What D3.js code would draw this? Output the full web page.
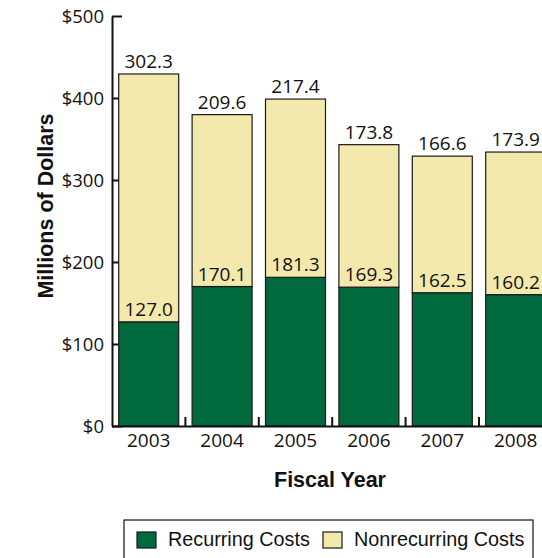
<!DOCTYPE html>
<html>
<head>
<meta charset="utf-8">
<script src="https://cdn.jsdelivr.net/npm/d3@7"></script>
<style>
  html, body { margin: 0; padding: 0; background: #fff; overflow: hidden; }
  svg { display: block; }
</style>
</head>
<body>
<svg id="chart" width="542" height="558"></svg>
<script>
// Fiscal years and cost components (millions of dollars)
const years = ["2003", "2004", "2005", "2006", "2007", "2008"];
const recurring = [127.0, 170.1, 181.3, 169.3, 162.5, 160.2];
const nonrecurring = [302.3, 209.6, 217.4, 173.8, 166.6, 173.9];
const yTicks = [0, 100, 200, 300, 400, 500];
const seriesNames = ["Recurring Costs", "Nonrecurring Costs"];

const colors = { recurring: "#006a3e", nonrecurring: "#f3e9ac", edge: "#1a1a1a" };
const valueFont = "'Open Sans', sans-serif";
const titleFont = "'Liberation Sans', Arial, sans-serif";

const svg = d3.select("#chart");
svg.append("rect").attr("width", 542).attr("height", 558).attr("fill", "#fff");

const x = d3.scaleBand()
  .domain(years)
  .range([112, 552.4])
  .paddingInner(0.1826)
  .paddingOuter(0.0913);

const y = d3.scaleLinear().domain([0, 500]).range([426, 16]);

// Y axis: ticks point inward, labels to the left
const yAxis = svg.append("g")
  .attr("transform", "translate(112,0)")
  .call(d3.axisLeft(y).tickValues(yTicks).tickSize(-10).tickSizeOuter(0)
    .tickPadding(8).tickFormat(d => "$" + d));
yAxis.select(".domain").attr("stroke", "#111").attr("stroke-width", 2);
yAxis.selectAll(".tick line").attr("stroke", "#111").attr("stroke-width", 2);
yAxis.selectAll(".tick text")
  .attr("font-family", valueFont).attr("font-size", 18.5).attr("fill", "#111")
  .attr("dy", "0.36em");

// Stacked bars
const data = years.map((yr, i) => ({ year: yr, rec: recurring[i], non: nonrecurring[i] }));
const bars = svg.append("g").selectAll("g").data(data).join("g");

bars.append("rect")
  .attr("x", d => x(d.year))
  .attr("y", d => y(d.rec))
  .attr("width", x.bandwidth())
  .attr("height", d => y(0) - y(d.rec))
  .attr("fill", colors.recurring)
  .attr("stroke", colors.edge).attr("stroke-width", 1.2);

bars.append("rect")
  .attr("x", d => x(d.year))
  .attr("y", d => y(d.rec + d.non))
  .attr("width", x.bandwidth())
  .attr("height", d => y(d.rec) - y(d.rec + d.non))
  .attr("fill", colors.nonrecurring)
  .attr("stroke", colors.edge).attr("stroke-width", 1.2);

// Value labels: recurring just above the green segment, nonrecurring above the stack
bars.append("text")
  .attr("x", d => x(d.year) + x.bandwidth() / 2)
  .attr("y", d => y(d.rec) - 6)
  .attr("text-anchor", "middle")
  .attr("font-family", valueFont).attr("font-size", 19).attr("fill", "#111")
  .text(d => d.rec.toFixed(1));

bars.append("text")
  .attr("x", d => x(d.year) + x.bandwidth() / 2)
  .attr("y", d => y(d.rec + d.non) - 6)
  .attr("text-anchor", "middle")
  .attr("font-family", valueFont).attr("font-size", 19).attr("fill", "#111")
  .text(d => d.non.toFixed(1));

// X axis with year labels
const xAxis = svg.append("g")
  .attr("transform", "translate(0,426)")
  .call(d3.axisBottom(x).tickSize(0).tickSizeOuter(0).tickPadding(8));
xAxis.select(".domain").attr("stroke", "#111").attr("stroke-width", 2);
xAxis.selectAll(".tick text")
  .attr("font-family", valueFont).attr("font-size", 19).attr("fill", "#111");

// Short separator ticks between the bars
const gap = x.step() * x.paddingInner() / 2;
svg.append("g").selectAll("line").data(years.slice(1)).join("line")
  .attr("x1", d => x(d) - gap).attr("x2", d => x(d) - gap)
  .attr("y1", 426).attr("y2", 417)
  .attr("stroke", "#111").attr("stroke-width", 2);

// Axis titles
svg.append("text")
  .attr("transform", "translate(53,206) rotate(-90)")
  .attr("text-anchor", "middle")
  .attr("font-family", titleFont).attr("font-weight", "bold").attr("font-size", 21.5)
  .attr("fill", "#111")
  .text("Millions of Dollars");

svg.append("text")
  .attr("x", 330).attr("y", 487)
  .attr("text-anchor", "middle")
  .attr("font-family", titleFont).attr("font-weight", "bold").attr("font-size", 21.5)
  .attr("fill", "#111")
  .text("Fiscal Year");

// Legend
const legend = svg.append("g");
legend.append("rect")
  .attr("x", 124).attr("y", 520).attr("width", 409).attr("height", 60)
  .attr("fill", "#fff").attr("stroke", "#111").attr("stroke-width", 1.2);

const legendItems = [
  { name: seriesNames[0], color: colors.recurring, x: 137 },
  { name: seriesNames[1], color: colors.nonrecurring, x: 323 }
];
const li = legend.selectAll("g.item").data(legendItems).join("g").attr("class", "item");
li.append("rect")
  .attr("x", d => d.x).attr("y", 532).attr("width", 19).attr("height", 16)
  .attr("fill", d => d.color).attr("stroke", colors.edge).attr("stroke-width", 1.2);
li.append("text")
  .attr("x", d => d.x + 31).attr("y", 546)
  .attr("font-family", titleFont).attr("font-size", 19.8).attr("fill", "#111")
  .text(d => d.name);
</script>
</body>
</html>
